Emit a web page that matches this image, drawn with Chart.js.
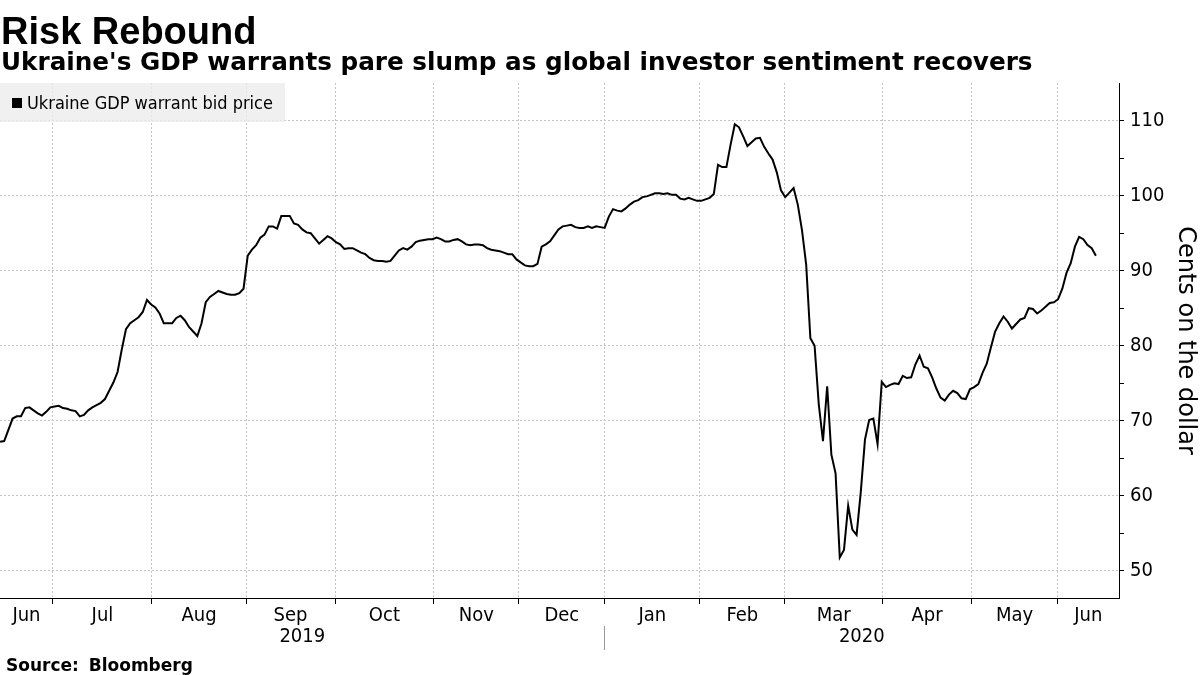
<!DOCTYPE html>
<html>
<head>
<meta charset="utf-8">
<script src="https://cdn.jsdelivr.net/npm/chart.js@4.4.1/dist/chart.umd.min.js"></script>
<style>
  body { margin: 0; background: #fff; }
  #wrap { position: relative; width: 1200px; height: 675px; overflow: hidden; }
  #chart { position: absolute; left: 0; top: 0; }
  .txt { position: absolute; left: 0; white-space: nowrap; color: #000; line-height: 1; }
  #title { top: 10px; left: 1px; font: bold 38px "Liberation Sans"; }
  #subtitle { top: 47px; left: 1px; font: bold 24.7px "DejaVu Sans"; }
  #source { top: 655px; left: 6px; font: bold 17px "DejaVu Sans"; word-spacing: 4px; }
  #legend { position: absolute; left: 0; top: 83px; width: 285px; height: 39px;
            background: rgba(236,236,236,0.8); display: flex; align-items: center;
            font: 18px "DejaVu Sans Condensed"; color: #000; }
  #legend span.sw { display: inline-block; width: 10px; height: 10px; background: #000; margin: 0 5px 0 12px; }
</style>
</head>
<body>
<div id="wrap">
  <canvas id="chart" width="1200" height="675"></canvas>
  <div class="txt" id="title">Risk Rebound</div>
  <div class="txt" id="subtitle">Ukraine's GDP warrants pare slump as global investor sentiment recovers</div>
  <div id="legend"><span class="sw"></span>Ukraine GDP warrant bid price</div>
  <div class="txt" id="source">Source: Bloomberg</div>
</div>
<script>
// Ukraine GDP warrant bid price, one value per trading day, Jun 12 2019 .. Jun 11 2020
var prices = [
  67.2, 67.3, 68.8, 70.3, 70.6, 70.6, 71.7, 71.8, 71.4, 71.0,
  70.7, 71.2, 71.8, 71.9, 72.0, 71.7, 71.6, 71.4, 71.3, 70.6,
  70.8, 71.4, 71.8, 72.1, 72.4, 72.9, 74.0, 75.1, 76.5, 79.5,
  82.2, 83.0, 83.4, 83.8, 84.5, 86.1, 85.5, 85.1, 84.3, 83.0,
  83.0, 83.0, 83.7, 84.0, 83.4, 82.5, 81.9, 81.3, 83.0, 85.8,
  86.5, 86.9, 87.3, 87.1, 86.9, 86.8, 86.8, 87.0, 87.6, 92.0,
  92.8, 93.4, 94.4, 94.8, 95.9, 95.9, 95.6, 97.3, 97.3, 97.3,
  96.3, 96.1, 95.5, 95.1, 95.0, 94.3, 93.6, 94.1, 94.6, 94.3,
  93.8, 93.5, 92.9, 93.0, 93.0, 92.7, 92.4, 92.2, 91.7, 91.4,
  91.3, 91.3, 91.2, 91.3, 92.0, 92.7, 93.0, 92.8, 93.2, 93.8,
  94.0, 94.1, 94.2, 94.2, 94.4, 94.2, 93.9, 93.9, 94.1, 94.2,
  93.9, 93.5, 93.4, 93.5, 93.5, 93.4, 93.0, 92.8, 92.7, 92.6,
  92.4, 92.2, 92.2, 91.5, 91.1, 90.7, 90.6, 90.6, 90.9, 93.2,
  93.5, 93.9, 94.7, 95.5, 95.9, 96.0, 96.1, 95.8, 95.7, 95.7,
  95.9, 95.7, 95.9, 95.8, 95.7, 97.2, 98.2, 98.0, 97.9, 98.3,
  98.8, 99.2, 99.4, 99.8, 99.9, 100.1, 100.3, 100.3, 100.2, 100.3,
  100.1, 100.1, 99.6, 99.5, 99.7, 99.5, 99.3, 99.3, 99.5, 99.7,
  100.2, 104.1, 103.8, 103.8, 106.8, 109.5, 109.1, 107.9, 106.6, 107.1,
  107.6, 107.7, 106.5, 105.6, 104.8, 103.1, 100.7, 99.8, 100.4, 101.0,
  98.8, 95.4, 90.8, 81.0, 80.0, 72.2, 67.3, 74.6, 65.5, 63.0,
  51.8, 52.8, 58.7, 55.5, 54.8, 60.5, 67.5, 70.1, 70.3, 66.9,
  75.2, 74.5, 74.8, 75.0, 74.9, 76.0, 75.7, 75.8, 77.5, 78.7,
  77.2, 77.0, 75.8, 74.3, 73.1, 72.7, 73.5, 74.0, 73.7, 73.0,
  72.9, 74.2, 74.5, 74.9, 76.4, 77.6, 79.8, 81.9, 83.0, 83.9,
  83.2, 82.3, 82.9, 83.5, 83.7, 85.0, 84.9, 84.3, 84.7, 85.2,
  85.7, 85.8, 86.2, 87.6, 89.7, 91.0, 93.2, 94.5, 94.2, 93.4,
  93.0, 92.0
];

// x axis (trading day index)
var xMin = 0;
var xMax = 266.5;
var monthNames = ["Jun", "Jul", "Aug", "Sep", "Oct", "Nov", "Dec", "Jan", "Feb", "Mar", "Apr", "May", "Jun"];
var monthEdges = [12.6, 36.2, 58.6, 79.8, 103.3, 123.6, 144, 166.7, 186.9, 210.2, 231.4, 251.9];
var years = ["2019", "2020"];
var yearEdge = 144;

// y axis
var yMin = 46.4;
var yMax = 115;
var yTicks = [50, 55, 60, 65, 70, 75, 80, 85, 90, 95, 100, 105, 110];

var points = prices.map(function (v, i) { return { x: i, y: v }; });

// month label positions: middle of each month span
var bounds = [xMin].concat(monthEdges, [xMax]);
var monthMids = [];
for (var i = 0; i < monthNames.length; i++) monthMids.push((bounds[i] + bounds[i + 1]) / 2);
var yearMids = [(xMin + yearEdge) / 2, (yearEdge + xMax) / 2];

var gridGrey = "#c4c4c4";
var tickFont = { family: "DejaVu Sans Condensed", size: 20 };

function isEdge(v) { return monthEdges.indexOf(v) >= 0; }

new Chart(document.getElementById("chart"), {
  type: "line",
  data: {
    datasets: [{
      label: "Ukraine GDP warrant bid price",
      data: points,
      borderColor: "#000",
      borderWidth: 2,
      pointRadius: 0,
      tension: 0,
      xAxisID: "x",
      yAxisID: "y"
    }]
  },
  options: {
    responsive: false,
    animation: false,
    devicePixelRatio: 1,
    layout: { padding: { top: 83, bottom: 25, left: 0, right: 0 } },
    plugins: { legend: { display: false }, tooltip: { enabled: false } },
    scales: {
      x: {
        type: "linear",
        position: "bottom",
        weight: 0,
        min: xMin,
        max: xMax,
        afterBuildTicks: function (axis) {
          axis.ticks = monthEdges.concat(monthMids).sort(function (a, b) { return a - b; })
            .map(function (v) { return { value: v }; });
        },
        afterFit: function (axis) { axis.height = 28; },
        ticks: {
          autoSkip: false,
          maxRotation: 0,
          padding: 0,
          color: "#000",
          font: tickFont,
          callback: function (v) {
            var k = monthMids.indexOf(v);
            return k >= 0 ? monthNames[k] : "";
          }
        },
        grid: {
          color: function (c) { return c.tick && isEdge(c.tick.value) ? gridGrey : "transparent"; },
          tickColor: function (c) { return c.tick && isEdge(c.tick.value) ? "#000" : "transparent"; },
          tickLength: 6,
          lineWidth: 1
        },
        border: { display: true, color: "#000", width: 1, dash: [2, 2] }
      },
      x2: {
        type: "linear",
        position: "bottom",
        weight: 1,
        min: xMin,
        max: xMax,
        afterBuildTicks: function (axis) {
          axis.ticks = [yearMids[0], yearEdge, yearMids[1]].map(function (v) { return { value: v }; });
        },
        afterFit: function (axis) { axis.height = 24; },
        ticks: {
          autoSkip: false,
          maxRotation: 0,
          padding: -25,
          color: "#000",
          font: tickFont,
          callback: function (v) {
            var k = yearMids.indexOf(v);
            return k >= 0 ? years[k] : "";
          }
        },
        grid: {
          drawOnChartArea: false,
          color: "transparent",
          tickColor: function (c) { return c.tick && c.tick.value === yearEdge ? "#9a9a9a" : "transparent"; },
          tickLength: 24
        },
        border: { display: false }
      },
      y: {
        type: "linear",
        position: "right",
        min: yMin,
        max: yMax,
        afterBuildTicks: function (axis) {
          axis.ticks = yTicks.map(function (v) { return { value: v }; });
        },
        afterFit: function (axis) { axis.width = 81; },
        ticks: {
          padding: 6,
          color: "#000",
          font: tickFont,
          callback: function (v) { return v % 10 === 0 ? String(v) : ""; }
        },
        grid: {
          color: function (c) { return c.tick && c.tick.value % 10 === 0 ? gridGrey : "transparent"; },
          tickColor: "#000",
          tickLength: 5
        },
        border: { display: true, color: "#000", width: 1, dash: [2, 2] },
        title: {
          display: true,
          text: "Cents on the dollar",
          color: "#000",
          font: { family: "DejaVu Sans", size: 24 },
          padding: 0
        }
      }
    }
  }
});
</script>
</body>
</html>
